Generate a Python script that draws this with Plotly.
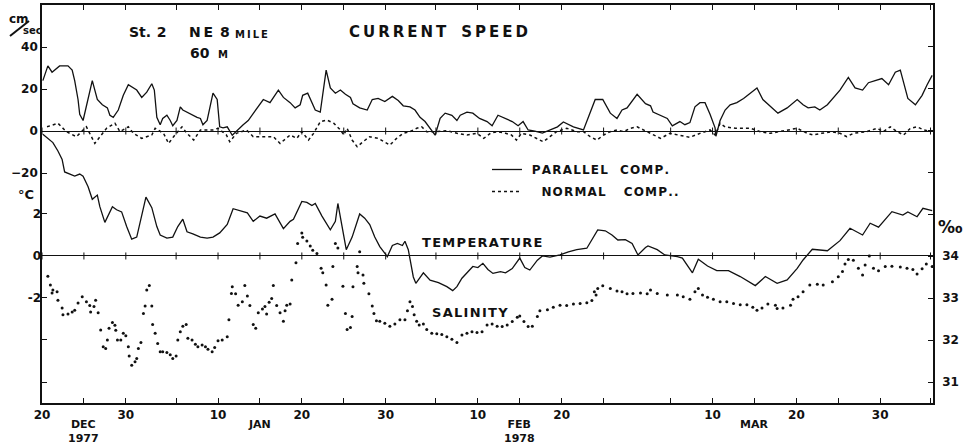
import pandas as pd
import plotly.graph_objects as go

# ---------------- data (days after 20 Dec 1977, value) ----------------
BASE = pd.Timestamp("1977-12-20")
X_END_DAY = 106.3

parallel_pts = [
    (0.1, 24), (0.7, 31), (1.2, 28), (2.1, 31), (3.1, 31), (3.6, 29), (3.9, 24), (4.3, 15), (4.5, 8), (4.9, 5),
    (6.0, 24), (6.6, 15), (7.2, 12.5), (7.8, 11), (8.1, 7.5), (8.5, 6.5), (9.1, 10), (9.7, 17), (10.3, 22),
    (10.9, 20.5), (11.3, 19.5), (11.9, 16), (12.5, 18.5), (13.1, 22.5), (13.4, 19.5), (13.7, 6.5), (14.1, 3),
    (14.4, 6), (14.9, 7.5), (15.3, 5), (15.6, 2.5), (16.1, 5), (16.5, 11.5), (16.8, 10), (17.7, 8), (18.5, 6.5),
    (18.9, 6), (19.2, 3), (19.7, 5), (20.4, 18), (20.9, 15), (21.2, 2), (21.6, 1.5), (22.1, 2), (22.7, -2),
    (23.3, 0.5), (24.0, 3), (24.6, 5), (25.7, 11), (26.4, 15), (27.2, 13.5), (28.2, 19.5), (28.8, 16),
    (29.6, 13.5), (30.2, 11), (30.8, 12.5), (31.1, 17), (31.7, 18), (32.6, 10), (33.2, 9), (33.9, 29),
    (34.4, 20.5), (35.0, 18), (35.6, 19.5), (36.2, 17.5), (36.8, 16), (37.1, 13), (37.9, 11), (38.8, 10),
    (39.4, 15), (40.1, 15.5), (40.9, 14), (41.8, 16.5), (42.5, 14.5), (43.1, 12), (43.9, 11.5), (44.5, 10),
    (45.1, 6.5), (45.7, 4.5), (46.3, 1.5), (46.9, -2), (47.5, 6), (48.1, 8.5), (48.9, 7.5), (49.5, 5),
    (49.9, 7.5), (50.7, 9), (51.4, 8.5), (52.2, 6), (53.1, 4.5), (53.7, 2.5), (54.4, 7.5), (55.3, 6),
    (56.1, 4.5), (56.8, 2.5), (57.4, 4.5), (58.0, 0.5), (58.8, 0), (59.7, -1), (60.6, 0.5), (61.5, 2),
    (62.2, 4.3), (63.4, 2), (64.6, 0.5), (65.4, 9), (66.0, 15), (66.9, 15), (67.8, 8.5), (68.6, 6),
    (69.2, 10), (69.8, 11), (71.0, 17.5), (72.0, 13), (72.6, 12), (72.9, 9), (73.7, 7.5), (74.6, 6),
    (75.2, 2.5), (76.1, 4.5), (76.7, 3), (77.3, 4), (77.9, 11.5), (78.5, 13.5), (79.1, 13.5), (79.7, 8),
    (80.3, 1.5), (80.4, -2.5), (80.9, 5), (81.5, 10), (82.1, 12.5), (82.9, 13.5), (83.7, 15.5), (84.7, 18.5),
    (85.3, 20.5), (86.0, 15), (87.1, 11), (87.8, 8.5), (88.9, 11), (90.1, 15), (90.8, 12.5), (91.4, 11),
    (92.2, 11.5), (92.8, 10), (93.7, 12.5), (94.3, 15.5), (95.2, 19.5), (96.2, 25.5), (97.0, 20.5),
    (97.9, 19.5), (98.6, 23), (99.4, 24), (100.2, 25), (101.0, 22), (101.8, 28), (102.4, 29), (102.7, 24),
    (103.3, 15.5), (104.2, 12.5), (105.0, 17), (105.6, 22), (106.2, 26.5),
]

normal_pts = [
    (0.6, 2.0), (1.9, 3.7), (2.9, -0.3), (4.1, -2.7), (5.3, 2.0), (6.3, -5.9), (7.7, 1.3), (8.7, 3.7),
    (9.3, -0.3), (10.3, 2.0), (10.9, -1.1), (11.9, -3.5), (13.1, -1.9), (13.5, 1.3), (14.5, -1.1),
    (15.1, -5.9), (15.7, -2.7), (16.7, 2.0), (17.3, -1.1), (18.1, -4.3), (18.9, 0.5), (20.4, 0.5),
    (21.0, 1.3), (22.0, -1.9), (22.4, -5.1), (23.2, -1.1), (24.4, 0.5), (25.2, -2.7), (26.4, -2.7),
    (27.6, -2.7), (28.4, -5.9), (29.6, -1.9), (30.4, -3.5), (31.0, -0.3), (31.8, -4.3), (32.4, -1.1),
    (33.2, 4.4), (34.0, 5.2), (34.8, 3.7), (35.6, 0.5), (36.0, -1.9), (36.4, 1.3), (37.0, -4.3),
    (37.6, -7.5), (38.3, -5.1), (39.1, -2.7), (40.1, -3.5), (40.9, -5.1), (41.5, -6.7), (42.3, -3.5),
    (43.1, -1.1), (43.9, -0.3), (44.7, 1.3), (45.3, 2.0), (45.9, -0.3), (46.9, -0.3), (48.3, 0.2),
    (49.5, -1.1), (50.7, -1.9), (51.9, -1.1), (52.7, -3.5), (53.5, -1.1), (54.3, -0.3), (55.3, -1.1),
    (56.0, -1.9), (56.6, -4.3), (57.2, -1.1), (58.2, -1.9), (59.0, -3.5), (59.8, -5.1), (60.6, -2.7),
    (61.4, -0.3), (62.6, 1.3), (63.8, -0.3), (64.6, -0.3), (65.4, -2.7), (66.2, -4.3), (67.0, -1.9),
    (67.8, -0.3), (68.6, 0.5), (69.4, -0.3), (70.2, 1.3), (71.0, 2.0), (71.8, 0.5), (72.6, -1.1),
    (73.8, -3.5), (74.9, -1.1), (76.1, -1.9), (77.3, -3.0), (78.5, -1.1), (79.7, 0.5), (80.3, -1.9),
    (80.9, 3.7), (81.5, 2.0), (82.7, 1.3), (84.5, 1.3), (85.7, -0.3), (86.9, -1.1), (88.1, -0.3),
    (89.3, 0.5), (90.1, 1.3), (91.3, -1.1), (92.0, -1.9), (93.0, -1.1), (94.2, -0.3), (95.2, -1.1),
    (96.0, -2.7), (96.8, -1.1), (98.4, -0.3), (99.6, 1.3), (100.4, -0.3), (101.2, 2.0), (102.0, -0.3),
    (102.8, -1.9), (103.6, 1.3), (104.4, 2.0), (105.2, 0.5), (106.0, -0.3),
]

temperature_pts = [
    (0.1, 5.8), (0.7, 5.6), (1.3, 5.4), (1.9, 5.0), (2.4, 4.6), (2.7, 4.0), (3.3, 3.9), (3.9, 3.8),
    (4.5, 3.9), (4.9, 3.8), (5.5, 3.3), (6.0, 2.7), (6.6, 2.9), (6.9, 2.35), (7.5, 1.6), (8.4, 2.35),
    (8.9, 2.2), (9.5, 2.1), (10.1, 1.4), (10.7, 0.8), (11.3, 0.9), (12.4, 2.8), (13.1, 2.3), (13.7, 1.4),
    (14.1, 1.0), (14.9, 0.85), (15.6, 0.9), (16.2, 1.4), (16.8, 1.75), (17.3, 1.15), (18.0, 1.05),
    (18.9, 0.9), (19.7, 0.85), (20.4, 0.9), (21.2, 1.1), (22.1, 1.5), (22.8, 2.25), (23.6, 2.15),
    (24.5, 2.05), (25.2, 1.65), (26.0, 1.9), (26.8, 1.8), (27.8, 2.0), (28.8, 1.3), (29.6, 1.65),
    (30.0, 1.75), (31.0, 2.6), (31.6, 2.55), (32.2, 2.4), (32.6, 2.5), (33.4, 1.9), (34.4, 1.25),
    (35.0, 1.65), (35.3, 2.5), (35.8, 1.3), (36.3, 0.3), (37.0, 0.9), (37.9, 2.0), (38.5, 1.8),
    (39.1, 1.5), (39.7, 0.9), (40.3, 0.45), (41.2, -0.03), (41.8, 0.5), (42.4, 0.6), (43.0, 0.5),
    (43.3, 0.7), (43.7, 0.3), (44.3, -1.0), (44.6, -1.3), (45.5, -0.8), (46.3, -1.15), (47.3, -1.27),
    (48.3, -1.46), (49.0, -1.65), (49.5, -1.46), (50.1, -1.06), (50.8, -0.75), (51.4, -0.5), (52.0, -0.55),
    (52.6, -0.35), (53.2, -0.64), (53.8, -0.83), (54.7, -0.75), (55.3, -0.8), (56.1, -0.6), (57.0, -0.1),
    (57.6, -0.55), (58.2, -0.67), (59.1, -0.2), (59.7, 0.0), (60.6, -0.05), (61.8, 0.05), (62.8, 0.2),
    (63.8, 0.3), (65.0, 0.37), (65.8, 0.9), (66.3, 1.24), (67.2, 1.2), (68.0, 1.0), (68.7, 0.76),
    (69.6, 0.78), (70.4, 0.6), (71.1, 0.05), (72.0, 0.4), (72.3, 0.48), (73.4, 0.3), (74.3, 0.05),
    (75.8, -0.03), (76.4, -0.1), (77.6, -0.8), (78.3, -0.16), (79.4, -0.48), (80.5, -0.7), (81.9, -0.7),
    (83.3, -0.98), (85.1, -1.41), (86.3, -0.98), (87.7, -1.3), (88.9, -1.14), (90.1, -0.59), (90.8, -0.19),
    (91.9, 0.32), (93.7, 0.25), (95.2, 0.73), (96.4, 1.32), (97.9, 1.0), (98.8, 1.56), (99.8, 1.37),
    (101.4, 2.11), (102.7, 1.95), (103.3, 2.1), (104.4, 1.87), (105.1, 2.27), (106.2, 2.16),
]

salinity_pts = [
    (0.7, 33.52), (1.0, 33.31), (1.2, 33.12), (1.3, 33.19), (1.8, 33.15), (1.9, 32.95), (2.4, 32.76),
    (2.5, 32.60), (3.1, 32.62), (3.6, 32.67), (3.9, 32.71), (4.3, 32.88), (4.8, 33.03), (5.3, 32.91),
    (5.7, 32.82), (5.8, 32.67), (6.2, 32.80), (6.4, 32.95), (6.7, 32.65), (7.0, 32.24), (7.3, 31.84),
    (7.6, 31.80), (7.8, 32.00), (8.0, 32.28), (8.4, 32.42), (8.7, 32.35), (8.8, 32.23), (9.0, 32.00),
    (9.4, 32.00), (9.7, 32.16), (10.0, 32.10), (10.3, 31.84), (10.4, 31.62), (10.7, 31.40), (11.1, 31.48),
    (11.3, 31.56), (11.5, 31.80), (11.8, 31.94), (12.1, 32.63), (12.3, 32.81), (12.5, 33.19), (12.8, 33.30),
    (13.1, 32.81), (13.2, 32.37), (13.5, 32.16), (13.8, 31.92), (14.1, 31.72), (14.4, 31.72), (14.9, 31.70),
    (15.3, 31.65), (15.6, 31.56), (16.0, 31.62), (16.2, 32.00), (16.5, 32.20), (16.8, 32.33), (17.2, 32.37),
    (17.4, 32.04), (17.9, 32.00), (18.3, 31.90), (18.6, 31.84), (19.1, 31.88), (19.5, 31.84), (19.8, 31.78),
    (20.3, 31.72), (20.6, 31.82), (21.0, 31.98), (21.5, 32.00), (22.1, 32.08), (22.3, 32.48), (22.6, 33.11),
    (22.7, 33.27), (23.1, 33.10), (23.4, 32.83), (23.9, 32.91), (24.2, 33.30), (24.5, 33.05), (24.8, 32.82),
    (25.2, 32.37), (25.5, 32.28), (25.8, 32.65), (26.3, 32.74), (26.6, 32.80), (26.8, 32.62), (27.1, 32.90),
    (27.4, 32.99), (27.6, 33.30), (28.0, 32.82), (28.4, 32.65), (28.8, 32.45), (29.0, 32.70), (29.2, 32.83),
    (29.6, 32.86), (29.8, 33.43), (30.3, 33.84), (30.5, 34.30), (31.0, 34.55), (31.1, 34.45), (31.6, 34.36),
    (32.0, 34.24), (32.3, 34.14), (32.8, 34.06), (33.3, 33.71), (33.5, 33.60), (33.9, 33.31), (34.1, 32.83),
    (34.6, 32.97), (34.7, 33.75), (35.0, 34.30), (35.3, 34.19), (35.9, 33.28), (36.2, 32.63), (36.4, 32.25),
    (36.8, 32.30), (37.0, 32.56), (37.1, 33.27), (37.6, 33.75), (37.7, 33.60), (37.9, 34.10), (38.3, 33.55),
    (38.4, 33.35), (39.0, 33.10), (39.4, 32.81), (39.6, 32.63), (39.9, 32.46), (40.3, 32.45), (40.9, 32.40),
    (41.5, 32.33), (42.1, 32.38), (42.7, 32.48), (43.3, 32.48), (43.6, 32.70), (43.9, 32.91), (44.2, 32.80),
    (44.4, 32.60), (44.7, 32.45), (45.0, 32.36), (45.5, 32.38), (45.9, 32.25), (46.5, 32.16), (47.1, 32.15),
    (47.7, 32.13), (48.3, 32.08), (48.9, 32.02), (49.5, 31.94), (50.1, 32.12), (50.7, 32.16), (51.3, 32.20),
    (51.9, 32.18), (52.5, 32.20), (53.1, 32.36), (53.7, 32.38), (54.3, 32.33), (54.9, 32.32), (55.5, 32.36),
    (56.1, 32.44), (56.7, 32.54), (57.0, 32.57), (57.5, 32.44), (58.0, 32.32), (58.5, 32.33), (59.1, 32.56),
    (59.4, 32.70), (60.3, 32.72), (61.0, 32.78), (61.8, 32.83), (62.6, 32.82), (63.4, 32.86), (64.2, 32.87),
    (65.0, 32.89), (65.6, 32.94), (65.9, 33.15), (66.1, 33.07), (66.3, 33.23), (66.9, 33.29), (67.8, 33.23),
    (68.6, 33.17), (69.2, 33.15), (69.8, 33.10), (70.5, 33.11), (71.4, 33.12), (72.2, 33.10), (72.6, 33.19),
    (73.4, 33.11), (74.6, 33.07), (75.8, 33.07), (76.5, 33.03), (77.3, 32.97), (77.9, 33.15), (78.3, 33.23),
    (78.8, 33.07), (79.4, 33.02), (80.1, 32.97), (80.9, 32.91), (81.7, 32.91), (82.5, 32.87), (83.3, 32.84),
    (84.1, 32.84), (84.8, 32.78), (85.3, 32.71), (85.9, 32.76), (86.6, 32.86), (87.5, 32.83), (87.7, 32.75),
    (88.4, 32.76), (89.3, 32.83), (89.6, 32.97), (90.2, 33.03), (90.8, 33.15), (91.6, 33.31), (92.5, 33.33),
    (93.2, 33.31), (94.3, 33.39), (95.0, 33.51), (95.5, 33.63), (95.8, 33.81), (96.2, 33.92), (96.8, 33.90),
    (97.4, 33.71), (97.9, 33.55), (98.2, 33.79), (98.7, 34.00), (99.2, 33.71), (99.8, 33.65), (100.6, 33.75),
    (101.4, 33.76), (102.4, 33.74), (103.2, 33.71), (103.9, 33.68), (104.4, 33.57), (105.0, 33.70),
    (105.5, 33.81), (106.2, 33.75),
]

SPEED_TICKS = [40, 20, 0, -20]
TEMP_TICKS = [2, 0, -2, -4, -6]
TEMP_TICKTEXT = ["2", "0", "-2", "", ""]
SAL_TICKS = [31, 32, 33, 34, 35, 36, 37, 38, 39]
SAL_TICKTEXT = ["31", "32", "33", "34", "", "", "", "", ""]
DATE_TICKS = ["1977-12-20", "1977-12-25", "1977-12-30", "1978-01-05", "1978-01-10", "1978-01-15",
              "1978-01-20", "1978-01-25", "1978-01-30", "1978-02-05", "1978-02-10", "1978-02-15",
              "1978-02-20", "1978-02-25", "1978-03-05", "1978-03-10", "1978-03-15", "1978-03-20",
              "1978-03-25", "1978-03-30", "1978-04-05"]
DATE_TICKTEXT = ["20", "", "30", "", "10", "", "20", "", "30", "", "10", "", "20", "", "", "10", "",
                 "20", "", "30", ""]
MONTH_LABELS = [("1977-12-25", "DEC", "1977"), ("1978-01-15", "JAN", ""),
                ("1978-02-15", "FEB", "1978"), ("1978-03-15", "MAR", "")]

SPEED_RANGE = [-129.5, 60.0]
TEMP_RANGE = [-7.0, 11.95]
SAL_RANGE = [30.5, 39.98]

# ---------------- helpers ----------------
def to_dates(days):
    return list(BASE + pd.to_timedelta(list(days), unit="D"))

def split(pts):
    d, v = zip(*pts)
    return to_dates(d), list(v)

def spaced(word, sep="\u2009"):
    return sep.join(word)

W, H = 968, 447
PL, PR, PT, PB = 42, 933, 5, 403

def px(x):
    return (x - PL) / (PR - PL)

def py(y):
    return (PB - y) / (PB - PT)

FONT = "DejaVu Sans"
INK = "#111111"
TS = "\u2009"   # thin space
HS = "\u200a"   # hair space
EM = "\u2003"
EN = "\u2002"

fig = go.Figure()

xd, yv = split(parallel_pts)
fig.add_trace(go.Scatter(x=xd, y=yv, mode="lines",
                         name=TS * 2 + spaced("PARALLEL", HS) + EM + spaced("COMP.", HS),
                         line=dict(color=INK, width=1.3), yaxis="y", legendgroup="a"))
xd, yv = split(normal_pts)
fig.add_trace(go.Scatter(x=xd, y=yv, mode="lines",
                         name=TS * 6 + spaced("NORMAL", HS) + EM + EN + spaced("COMP..", HS),
                         line=dict(color=INK, width=1.5, dash="dot"), yaxis="y", legendgroup="b"))
xd, yv = split(temperature_pts)
fig.add_trace(go.Scatter(x=xd, y=yv, mode="lines", name="TEMPERATURE", showlegend=False,
                         line=dict(color=INK, width=1.3), yaxis="y2"))
xd, yv = split(salinity_pts)
fig.add_trace(go.Scatter(x=xd, y=yv, mode="markers", name="SALINITY", showlegend=False,
                         marker=dict(color=INK, size=3.0), yaxis="y3"))

# small date ticks on both zero lines
tick_dates = [pd.Timestamp(t) for t in DATE_TICKS]
for ax in ("y", "y2"):
    fig.add_trace(go.Scatter(x=tick_dates, y=[0] * len(tick_dates), mode="markers", showlegend=False,
                             hoverinfo="skip", yaxis=ax,
                             marker=dict(symbol="line-ns-open", size=5, color=INK,
                                         line=dict(color=INK, width=1))))

tickfont = dict(family=FONT, size=12, color=INK, weight="bold")

fig.update_layout(
    width=W, height=H,
    margin=dict(l=PL, r=W - PR, t=PT, b=H - PB, autoexpand=False),
    paper_bgcolor="white", plot_bgcolor="white",
    showlegend=True,
    legend=dict(x=px(487), y=py(155), xanchor="left", yanchor="top", bgcolor="rgba(0,0,0,0)",
                font=dict(family=FONT, size=12, color=INK, weight="bold"),
                traceorder="grouped", tracegroupgap=3, itemwidth=30),
    xaxis=dict(type="date", range=[BASE, BASE + pd.Timedelta(days=X_END_DAY)],
               tickvals=tick_dates, ticktext=DATE_TICKTEXT, ticks="inside", ticklen=5,
               tickcolor=INK, tickwidth=1, showline=True, linecolor=INK, linewidth=1.6,
               mirror="ticks", showgrid=False, zeroline=False, tickfont=tickfont),
    yaxis=dict(range=SPEED_RANGE, tickvals=SPEED_TICKS, ticks="inside", ticklen=5, tickcolor=INK,
               showline=True, linecolor=INK, linewidth=1.6, showgrid=False,
               zeroline=True, zerolinecolor=INK, zerolinewidth=1.2, tickfont=tickfont),
    yaxis2=dict(range=TEMP_RANGE, tickvals=TEMP_TICKS, ticktext=TEMP_TICKTEXT, overlaying="y",
                side="left", ticks="inside", ticklen=5, tickcolor=INK, showline=False, showgrid=False,
                zeroline=True, zerolinecolor=INK, zerolinewidth=1.2, tickfont=tickfont),
    yaxis3=dict(range=SAL_RANGE, tickvals=SAL_TICKS, ticktext=SAL_TICKTEXT, overlaying="y",
                side="right", ticks="inside", ticklen=5, tickcolor=INK, showline=True,
                linecolor=INK, linewidth=1.6, showgrid=False, zeroline=False, tickfont=tickfont,
                ticklabelstandoff=5),
)

def note(text, x, y, size, xanchor="left", xref="paper"):
    fig.add_annotation(text=text, x=x, y=y, xref=xref, yref="paper", xanchor=xanchor, yanchor="middle",
                       showarrow=False, font=dict(family=FONT, size=size, color=INK, weight="bold"))

note("cm", px(19), py(19), 12, "center")
note("sec", px(32), py(31), 10, "center")
fig.add_shape(type="line", xref="paper", yref="paper", x0=px(10), y0=py(36), x1=px(29), y1=py(21),
              line=dict(color=INK, width=2))
note("St." + TS * 2 + "2", px(127), py(32), 14)
note("N" + TS + "E" + EN + "8", px(187), py(32), 14)
note(spaced("MILE"), px(233), py(34), 10)
note("60", px(188), py(53), 14)
note("M", px(216), py(55), 10)
note(spaced("CURRENT") + EM + spaced("SPEED"), px(347), py(32), 15)
note(spaced("TEMPERATURE", HS), px(420), py(242), 13)
note(spaced("SALINITY", HS), px(430), py(312), 13)
note("°C", px(26), py(195), 13, "center")
note("‰", px(951), py(227), 17, "center")

for date, month, year in MONTH_LABELS:
    text = month + ("<br>" + year if year else "")
    yc = py(431) if year else py(425)
    note(text, date, yc, 11, "center", xref="x")

fig.write_html("out.html", config={"displayModeBar": False},
               post_script="document.body.style.margin='0';document.body.style.padding='0';")
